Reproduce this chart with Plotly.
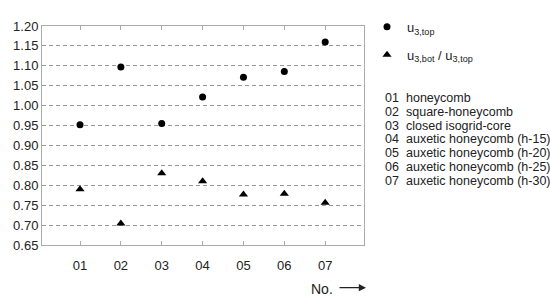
import plotly.graph_objects as go

categories = ["01", "02", "03", "04", "05", "06", "07"]
u3_top = [0.952, 1.097, 0.955, 1.022, 1.071, 1.086, 1.160]
u3_ratio = [0.790, 0.704, 0.830, 0.810, 0.777, 0.779, 0.756]
y_ticks = [0.65, 0.70, 0.75, 0.80, 0.85, 0.90, 0.95, 1.00, 1.05, 1.10, 1.15, 1.20]
names = ["honeycomb", "square-honeycomb", "closed isogrid-core",
         "auxetic honeycomb (h-15)", "auxetic honeycomb (h-20)",
         "auxetic honeycomb (h-25)", "auxetic honeycomb (h-30)"]

W, H = 550, 301
L, R, T, B = 42, 186, 14, 56
pw, ph = W - L - R, H - T - B

def px(x):
    return (x - L) / pw

def py(y):
    return 1 - (y - T) / ph

FONT = "Arial, Liberation Sans, sans-serif"
xpos = list(range(1, len(categories) + 1))

fig = go.Figure()
fig.add_trace(go.Scatter(x=xpos, y=u3_top, mode="markers", name="u<sub>3,top</sub>",
                         marker=dict(symbol="circle", size=7, color="black"),
                         legendgroup="a"))
fig.add_trace(go.Scatter(x=xpos, y=u3_ratio, mode="markers",
                         name="u<sub>3,bot</sub> / u<sub>3,top</sub>",
                         marker=dict(symbol="triangle-up", size=8, color="black"),
                         legendgroup="b"))

annotations = []
for i, (c, n) in enumerate(zip(categories, names)):
    yy = 90 + i * 14.5
    annotations.append(dict(x=px(383), y=py(yy), xref="paper", yref="paper", text=c,
                            showarrow=False, xanchor="left", yanchor="middle",
                            font=dict(size=12.5, color="#222", family=FONT)))
    annotations.append(dict(x=px(404), y=py(yy), xref="paper", yref="paper", text=n,
                            showarrow=False, xanchor="left", yanchor="middle",
                            font=dict(size=12.5, color="#222", family=FONT)))
annotations.append(dict(x=px(309), y=py(291), xref="paper", yref="paper", text="No.",
                        showarrow=False, xanchor="left", yanchor="middle",
                        font=dict(size=14, color="#222", family=FONT)))
annotations.append(dict(x=px(366), y=py(290), xref="paper", yref="paper", text="",
                        showarrow=True, ax=-28, ay=0, arrowhead=2, arrowsize=1.2,
                        arrowwidth=1.2, arrowcolor="#222"))

fig.update_layout(
    width=W, height=H,
    margin=dict(l=L, r=R, t=T, b=B),
    plot_bgcolor="white", paper_bgcolor="white",
    font=dict(family=FONT, size=13, color="#222"),
    showlegend=True,
    legend=dict(x=px(367), y=py(-1), xanchor="left", yanchor="top",
                traceorder="grouped", tracegroupgap=8,
                font=dict(size=13, color="#222", family=FONT),
                bgcolor="rgba(0,0,0,0)"),
    annotations=annotations,
)
fig.update_xaxes(range=[0.07, 7.95], tickvals=xpos, ticktext=categories,
                 showgrid=False, zeroline=False, showline=True, linecolor="#aaa",
                 linewidth=1, mirror="ticks", ticks="inside", ticklen=4,
                 tickcolor="#aaa", ticklabelstandoff=8,
                 tickfont=dict(size=13, color="#222", family=FONT))
fig.update_yaxes(range=[0.65, 1.20], tickvals=y_ticks,
                 ticktext=[f"{v:.2f}" for v in y_ticks],
                 showgrid=True, gridcolor="#999", griddash="4px,3px", gridwidth=1,
                 zeroline=False, showline=True, linecolor="#aaa", linewidth=1,
                 mirror=True, ticks="",
                 tickfont=dict(size=13, color="#222", family=FONT))

fig.write_html("out.html", config={"displayModeBar": False},
               post_script="document.body.style.margin='0';")
